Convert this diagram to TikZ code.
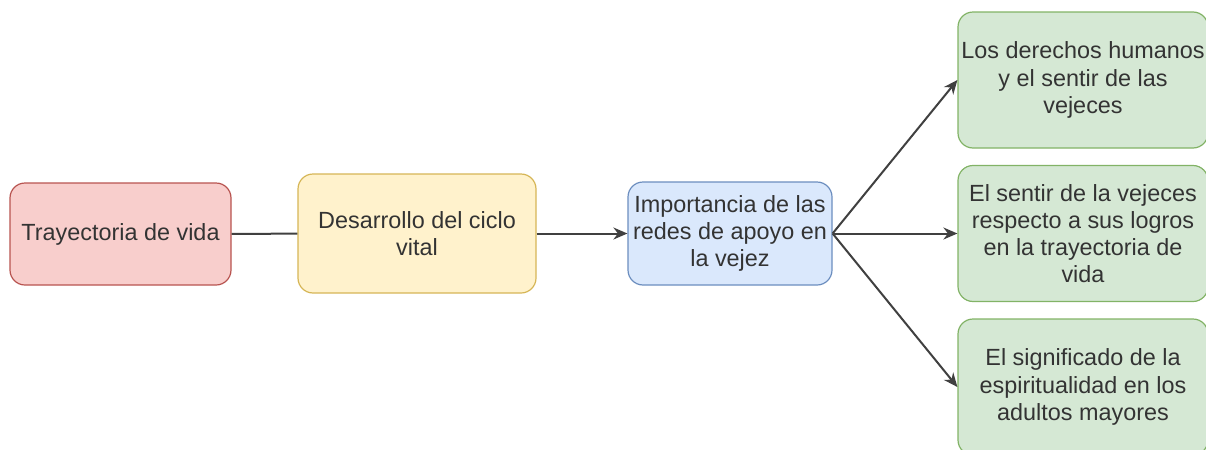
\documentclass[tikz,border=0pt]{standalone}
\usepackage{fontspec}
\setmainfont{Liberation Sans}
\usepackage{xcolor}
\usetikzlibrary{arrows.meta}

\definecolor{redfill}{HTML}{F8CECC}
\definecolor{redline}{HTML}{B85450}
\definecolor{yelfill}{HTML}{FFF2CC}
\definecolor{yelline}{HTML}{D6B656}
\definecolor{bluefill}{HTML}{DAE8FC}
\definecolor{blueline}{HTML}{6C8EBF}
\definecolor{grnfill}{HTML}{D5E8D4}
\definecolor{grnline}{HTML}{82B366}
\definecolor{txt}{HTML}{333333}

\begin{document}
\begin{tikzpicture}[x=0.5pt,y=-0.5pt,
  >={Stealth[length=7pt,width=6pt]},
  font=\fontsize{11.7}{13.6}\selectfont,
  box/.style={draw,rounded corners=7.5pt,inner sep=0pt,align=center,
    text=txt,line width=0.6pt},
  conn/.style={line width=1pt,draw=black!75}]

% page, clipped like the original screenshot
\useasboundingbox (0,0) rectangle (1206,450);
\clip (0,0) rectangle (1206,450);

% --- main chain ---
\node[box,fill=redfill,draw=redline,minimum width=110.5pt,minimum height=51pt]
  (trayectoria) at (120.5,234) {Trayectoria de vida};
\node[box,fill=yelfill,draw=yelline,minimum width=119pt,minimum height=59.5pt]
  (desarrollo) at (417,233.5) {Desarrollo del ciclo\\vital};
\node[box,fill=bluefill,draw=blueline,minimum width=102pt,minimum height=51.5pt]
  (redes) at (730,233.5) {Importancia de las\\redes de apoyo en\\la vejez};

% --- results on the right ---
\node[box,fill=grnfill,draw=grnline,minimum width=125pt,minimum height=68pt]
  (derechos) at (1083,80) {Los derechos humanos\\y el sentir de las\\vejeces};
\node[box,fill=grnfill,draw=grnline,minimum width=125pt,minimum height=68pt]
  (logros) at (1083,233.5) {El sentir de la vejeces\\respecto a sus logros\\en la trayectoria de\\vida};
\node[box,fill=grnfill,draw=grnline,minimum width=125pt,minimum height=68pt]
  (espiritualidad) at (1083,387) {El significado de la\\espiritualidad en los\\adultos mayores};

% connectors
\draw[conn] (trayectoria) -- (desarrollo);
\draw[conn,->] (desarrollo) -- (redes);
\draw[conn,->] (redes.east) -- (derechos.west);
\draw[conn,->] (redes.east) -- (logros.west);
\draw[conn,->] (redes.east) -- (espiritualidad.west);

\end{tikzpicture}
\end{document}
